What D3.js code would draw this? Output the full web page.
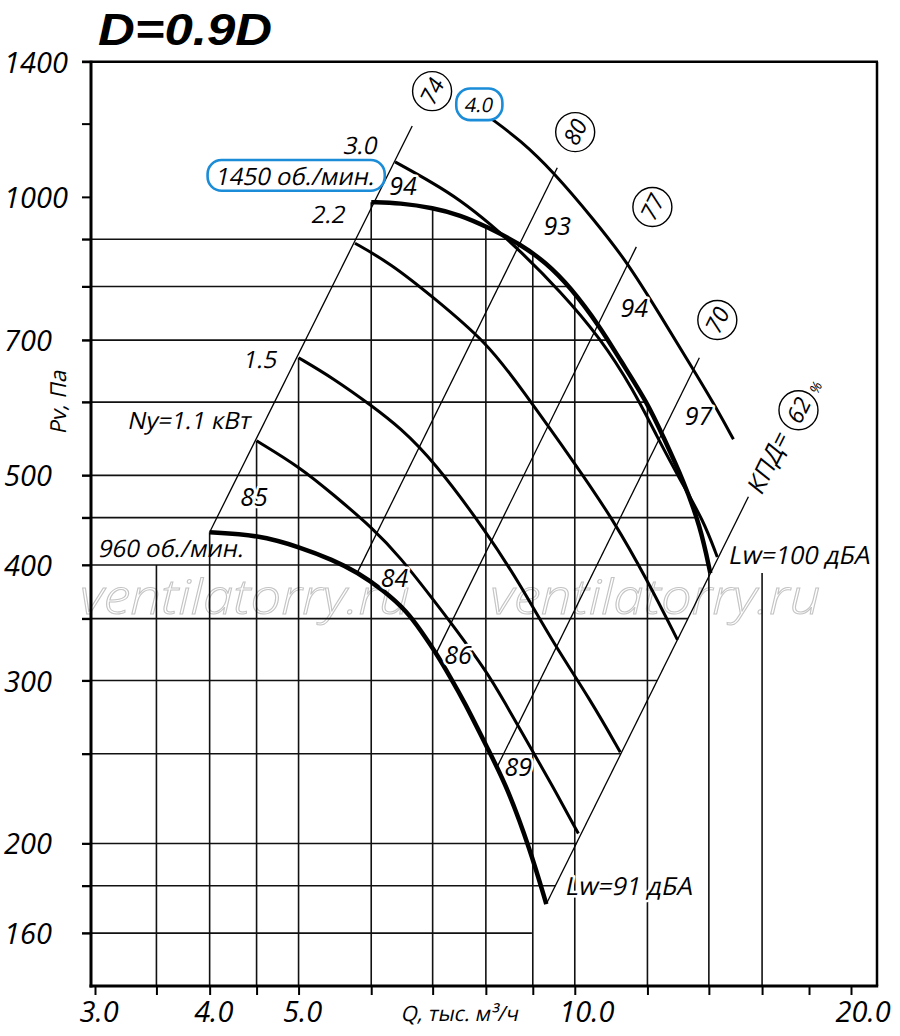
<!DOCTYPE html>
<html lang="ru"><head><meta charset="utf-8">
<script src="https://cdn.jsdelivr.net/npm/d3@7/dist/d3.min.js"></script>
<style>
html,body{margin:0;padding:0;background:#fff;}
svg text{font-family:"Open Sans","Noto Sans","DejaVu Sans",sans-serif;font-style:italic;fill:#000;}
svg text.obl{font-style:normal;}
</style></head><body>
<svg id="chart" width="900" height="1036" xmlns="http://www.w3.org/2000/svg"></svg>
<script>
// ---------------- data ----------------
const chartTitle = "D=0.9D";
const xAxisTitle = "Q, тыс. м³/ч";
const yAxisTitle = "Pv, Па";

const qTickValues = [3, 3.5, 4, 4.5, 5, 6, 7, 8, 9, 10, 12, 14, 16, 18, 20];
const qTickLabels = [3, 4, 5, 10, 20];
const qGridValues = [3.5, 4, 4.5, 5, 6, 7, 8, 9, 10, 12, 14, 16];
const pTickValues = [1400, 1200, 1000, 900, 800, 700, 600, 500, 450, 400, 350, 300, 250, 200, 180, 160];
const pTickLabels = [1400, 1000, 700, 500, 400, 300, 200, 160];
const pGridValues = [900, 800, 700, 600, 500, 450, 400, 350, 300, 250, 200, 180, 160];
const pGridLeftFloor = 400;

// fan characteristics: Q (тыс. м³/ч) / Pv (Па)
const q960  = [4.00, 4.52, 5.02, 5.45, 5.79, 6.18, 6.57, 6.79, 7.08, 7.31, 7.56, 8.09, 8.44, 8.94, 9.31];
const p960  = [434, 431, 418, 405, 393, 376, 356, 340, 320, 303, 286, 250, 230, 197, 172];
const qN11  = [4.50, 5.02, 5.45, 6.03, 6.45, 7.01, 7.37, 8.03, 8.34, 9.01, 9.52, 10.09];
const pN11  = [545, 510, 477, 438, 408, 367, 344, 306, 287, 251, 228, 205];
const qN15  = [5.00, 5.45, 6.03, 6.45, 7.01, 8.03, 8.72, 9.48, 10.40, 11.21];
const pN15  = [670, 637, 593, 563, 519, 433, 381, 329, 286, 251];
const qN22  = [5.76, 6.29, 7.01, 8.03, 8.72, 10.06, 11.02, 12.00, 12.94];
const pN22  = [891, 848, 779, 695, 623, 511, 447, 385, 332];
const q1450 = [6.00, 6.45, 7.01, 7.50, 8.03, 8.72, 9.29, 9.89, 10.66, 11.21, 12.00, 12.49, 13.13, 13.71, 14.05];
const p1450 = [987, 985, 973, 956, 928, 889, 850, 799, 723, 666, 599, 550, 494, 440, 392];
const qN30  = [6.37, 7.01, 7.50, 8.09, 8.72, 9.64, 10.66, 11.58, 12.30, 13.03, 13.81, 14.30];
const pN30  = [1091, 1035, 992, 935, 874, 791, 704, 619, 550, 494, 447, 408];
const qN40  = [8.09, 8.72, 9.48, 10.48, 11.41, 12.39, 13.37, 14.16, 14.89];
const pN40  = [1217, 1152, 1064, 946, 850, 745, 658, 599, 547];

// efficiency (КПД) lines
const effLabels = ["74", "80", "77", "70", "62"];
const effQ0 = [4.00, 5.79, 7.05, 8.23, 9.31];
const effP0 = [434, 392, 320, 242, 172];
const effQ1 = [6.65, 9.57, 11.67, 13.67, 15.46];
const effP1 = [1193, 1075, 883, 670, 474];
const effMarkQ = [6.99, 10.01, 12.15, 14.30, 17.53];
const effMarkP = [1301, 1175, 975, 736, 588];

// noise levels along the curves
const noiseText = ["94", "93", "94", "97", "85", "84", "86", "89"];
const noiseQ = [6.50, 9.57, 11.61, 13.64, 4.47, 6.36, 7.46, 8.68];
const noiseP = [1027, 930, 758, 580, 474, 387, 320, 242];

// motor power labels
const powerText = ["3.0", "2.2", "1.5", "Ny=1.1 кВт"];
const powerQ = [5.85, 5.40, 4.55, 3.81];
const powerP = [1138, 958, 668, 573];
const boxedPowerText = "4.0";
const boxedPowerQ = 7.87, boxedPowerP = 1257;

// speed labels
const speedText = ["1450 об./мин.", "960 об./мин."];
const speedQ = [4.97, 3.64];
const speedP = [1053, 417];

const lwText = ["Lw=91 дБА", "Lw=100 дБА"];
const lwQ = [11.49, 17.62];
const lwP = [180, 410];

const kpdText = "КПД=", kpdQ = 16.26, kpdP = 517;
const pctText = "%", pctQ = 18.30, pctP = 622;

const watermarkText = "ventilatorry.ru";
const watermarkQ = [4.37, 12.24];
const watermarkP = 369;

// ---------------- drawing ----------------
const svg = d3.select("#chart");
const x = d3.scaleLog().domain([3, 20]).range([95, 851]);
const y = d3.scaleLog().domain([160, 1400]).range([933.1, 61.7]);
const frame = {left: 91, right: 877, top: y(1400), bottom: 986};
const ANG = -63.5;
const SKEW = -12;
const BLUE = "#1a8cd8";

const zip = (qs, ps) => qs.map((q, i) => [q, ps[i]]);
const curves = {
  c960: zip(q960, p960), n11: zip(qN11, pN11), n15: zip(qN15, pN15), n22: zip(qN22, pN22),
  c1450: zip(q1450, p1450), n30: zip(qN30, pN30), n40: zip(qN40, pN40)
};

function interpLog(xs, ys, v) {
  const lv = Math.log(v);
  for (let i = 0; i < xs.length - 1; i++) {
    const a = Math.log(xs[i]), b = Math.log(xs[i + 1]);
    if ((lv - a) * (lv - b) <= 1e-12) {
      const t = b === a ? 0 : (lv - a) / (b - a);
      return Math.exp(Math.log(ys[i]) + t * (Math.log(ys[i + 1]) - Math.log(ys[i])));
    }
  }
  return null;
}
function effLineQ(i, p) {
  const lq0 = Math.log(effQ0[i]), lq1 = Math.log(effQ1[i]);
  const lp0 = Math.log(effP0[i]), lp1 = Math.log(effP1[i]);
  return Math.exp(lq0 + (Math.log(p) - lp0) * (lq1 - lq0) / (lp1 - lp0));
}

// watermark
svg.append("g").selectAll("text").data(watermarkQ).join("text")
  .attr("x", d => x(d)).attr("y", y(watermarkP)).attr("dy", "0.35em")
  .attr("text-anchor", "middle").attr("font-size", 48).attr("font-weight", 300)
  .attr("textLength", 330).attr("lengthAdjust", "spacingAndGlyphs")
  .style("fill", "none").attr("stroke", "#c4c4c4").attr("stroke-width", 1)
  .text(watermarkText);

// grid
const grid = svg.append("g").attr("stroke", "#111").attr("stroke-width", 1.6);
const lastEff = effLabels.length - 1;
grid.selectAll("line.h").data(pGridValues).join("line").attr("class", "h")
  .attr("x1", 82).attr("y1", d => y(d)).attr("y2", d => y(d))
  .attr("x2", d => {
    const qe = interpLog(p1450, q1450, d);
    const q62 = effLineQ(lastEff, d);
    return x(Math.min(qe === null ? Infinity : qe, q62));
  });
grid.selectAll("line.v").data(qGridValues).join("line").attr("class", "v")
  .attr("x1", d => x(d)).attr("x2", d => x(d)).attr("y2", frame.bottom)
  .attr("y1", d => {
    const vals = [curves.c960, curves.n11, curves.n15, curves.c1450]
      .map(c => interpLog(c.map(e => e[0]), c.map(e => e[1]), d)).filter(v => v !== null);
    if (vals.length) return y(d3.max(vals));
    return y(d < q960[0] ? pGridLeftFloor : p1450[p1450.length - 1]);
  });

// axes ticks
const yAx = svg.append("g").attr("transform", `translate(${frame.left},0)`)
  .call(d3.axisLeft(y).tickValues(pTickValues).tickSize(9).tickFormat(""));
yAx.select(".domain").remove();
yAx.selectAll(".tick line").attr("stroke", "#000").attr("stroke-width", 2);

const yLab = svg.append("g").attr("transform", `translate(${frame.left},0)`)
  .call(d3.axisLeft(y).tickValues(pTickLabels).tickSize(0).tickFormat(d3.format("d")));
yLab.select(".domain").remove();
yLab.selectAll(".tick text").attr("x", 4 - frame.left).attr("dy", "0.36em")
  .attr("text-anchor", "start").attr("font-size", 29).attr("font-family", null);

const xAx = svg.append("g").attr("transform", `translate(0,${frame.bottom})`)
  .call(d3.axisBottom(x).tickValues(qTickValues).tickSize(9).tickFormat(""));
xAx.select(".domain").remove();
xAx.selectAll(".tick line").attr("stroke", "#000").attr("stroke-width", 2);

const xLab = svg.append("g").attr("transform", `translate(0,${frame.bottom})`)
  .call(d3.axisBottom(x).tickValues(qTickLabels).tickSize(0).tickFormat(d3.format(".1f")));
xLab.select(".domain").remove();
xLab.selectAll(".tick text").attr("x", -16).attr("y", 36).attr("dy", 0)
  .attr("text-anchor", "start").attr("font-size", 29).attr("font-family", null);

// frame
const fr = svg.append("g").attr("stroke", "#000");
fr.append("line").attr("x1", 82).attr("x2", frame.right + 1).attr("y1", frame.top).attr("y2", frame.top).attr("stroke-width", 2.5);
fr.append("line").attr("x1", frame.right).attr("x2", frame.right).attr("y1", frame.top).attr("y2", frame.bottom).attr("stroke-width", 2.5);
fr.append("line").attr("x1", frame.left).attr("x2", frame.left).attr("y1", frame.top - 1).attr("y2", frame.bottom + 1.5).attr("stroke-width", 3);
fr.append("line").attr("x1", frame.left - 1.5).attr("x2", frame.right + 1.2).attr("y1", frame.bottom).attr("y2", frame.bottom).attr("stroke-width", 3);

// efficiency lines
svg.append("g").selectAll("line").data(effLabels).join("line")
  .attr("x1", (d, i) => x(effQ0[i])).attr("y1", (d, i) => y(effP0[i]))
  .attr("x2", (d, i) => x(effQ1[i])).attr("y2", (d, i) => y(effP1[i]))
  .attr("stroke", "#000").attr("stroke-width", 1.3);

// curves
const lineGen = d3.line().x(d => x(d[0])).y(d => y(d[1])).curve(d3.curveBasis);
const thin = ["n11", "n15", "n22", "n30", "n40"], thick = ["c960", "c1450"];
svg.append("g").selectAll("path").data(thin).join("path")
  .attr("d", k => lineGen(curves[k])).attr("fill", "none").attr("stroke", "#000")
  .attr("stroke-width", 3).attr("stroke-linecap", "butt");
svg.append("g").selectAll("path").data(thick).join("path")
  .attr("d", k => lineGen(curves[k])).attr("fill", "none").attr("stroke", "#000")
  .attr("stroke-width", 4.5).attr("stroke-linecap", "butt");

// labels
function halo(sel, w) {
  return sel.attr("stroke", "#fff").attr("stroke-width", w).attr("stroke-linejoin", "round").style("paint-order", "stroke");
}
// oblique (skewed upright) text keeps the non-cursive Cyrillic shapes
function oblique(parent, txt, px, py, size, anchor) {
  return parent.append("text").attr("class", "obl")
    .attr("transform", `translate(${px},${py}) skewX(${SKEW})`)
    .attr("dy", "0.36em").attr("text-anchor", anchor || "middle")
    .attr("font-size", size).text(txt);
}
const L = svg.append("g");
halo(L.append("g").selectAll("text").data(noiseText).join("text")
  .attr("x", (d, i) => x(noiseQ[i])).attr("y", (d, i) => y(noiseP[i])).attr("dy", "0.36em")
  .attr("text-anchor", "middle").attr("font-size", 25).text(d => d), 5);
powerText.forEach((t, i) => oblique(L, t, x(powerQ[i]), y(powerP[i]), 24));
lwText.forEach((t, i) => halo(oblique(L, t, x(lwQ[i]), y(lwP[i]), 25), 5));
oblique(L, speedText[1], x(speedQ[1]), y(speedP[1]), 24);

function boxed(txt, q, p, size, padX, padY) {
  const g = svg.append("g");
  const t = oblique(g, txt, x(q), y(p), size);
  const b = t.node().getBBox();
  g.insert("rect", "text")
    .attr("x", x(q) + b.x - padX).attr("y", y(p) + b.y - padY)
    .attr("width", b.width + 2 * padX).attr("height", b.height + 2 * padY)
    .attr("rx", 14).attr("fill", "#fff").attr("stroke", BLUE).attr("stroke-width", 2.6);
}
boxed(speedText[0], speedQ[0], speedP[0], 24, 9, -1);
boxed(boxedPowerText, boxedPowerQ, boxedPowerP, 20, 9, 2);

// efficiency circle marks
const em = svg.append("g").selectAll("g").data(effLabels).join("g")
  .attr("transform", (d, i) => `translate(${x(effMarkQ[i])},${y(effMarkP[i])})`);
em.append("circle").attr("r", 19.5).attr("fill", "#fff").attr("stroke", "#000").attr("stroke-width", 1.4);
em.append("text").attr("transform", `rotate(${ANG})`).attr("dy", "0.36em")
  .attr("text-anchor", "middle").attr("font-size", 23).text(d => d);

svg.append("text").attr("class", "obl")
  .attr("transform", `translate(${x(kpdQ)},${y(kpdP)}) rotate(${ANG}) skewX(${SKEW})`)
  .attr("dy", "0.36em").attr("text-anchor", "middle").attr("font-size", 25).text(kpdText);
svg.append("text").attr("transform", `translate(${x(pctQ)},${y(pctP)}) rotate(${ANG})`)
  .attr("dy", "0.36em").attr("text-anchor", "middle").attr("font-size", 14).text(pctText);

// titles
svg.append("text").attr("x", 98).attr("y", 45).attr("font-size", 44).attr("font-weight", 700)
  .style("font-family", "'Liberation Sans', Arial, sans-serif")
  .attr("textLength", 174).attr("lengthAdjust", "spacingAndGlyphs").text(chartTitle);
oblique(svg, yAxisTitle, 0, 0, 22).attr("transform", `translate(58,401) rotate(-90) skewX(${SKEW})`);
oblique(svg, xAxisTitle, 402, 1013, 21, "start");
</script></body></html>
